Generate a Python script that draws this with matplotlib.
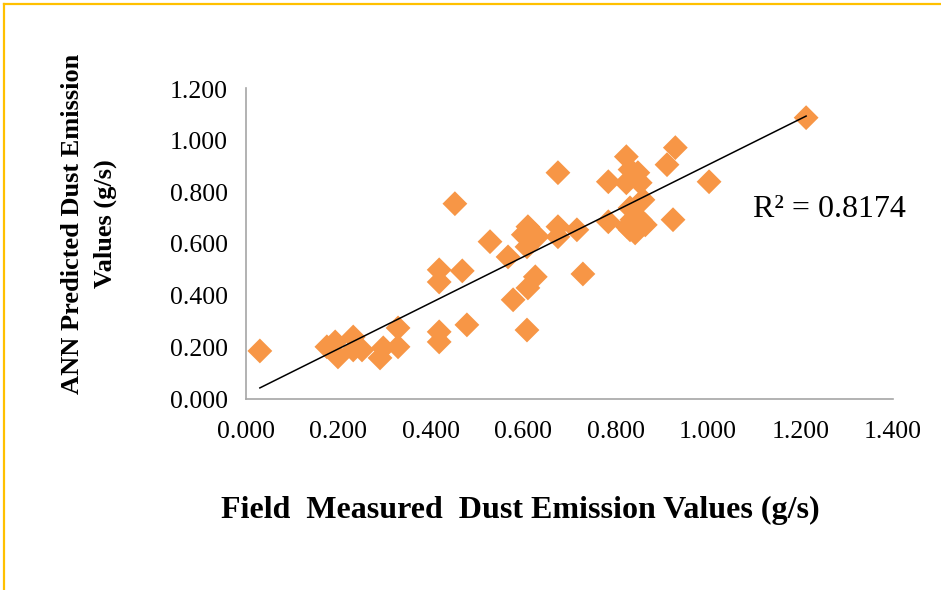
import numpy as np
import matplotlib.pyplot as plt
from matplotlib.lines import Line2D

# field measured vs ANN predicted dust emission (g/s)
measured = [0.030, 0.175, 0.193, 0.199, 0.232, 0.232, 0.251, 0.290, 0.297, 0.329,
            0.329, 0.418, 0.418, 0.418, 0.418, 0.452, 0.468, 0.478, 0.528, 0.567,
            0.578, 0.608, 0.610, 0.626, 0.610, 0.608, 0.626, 0.608, 0.600, 0.630,
            0.675, 0.675, 0.675, 0.716, 0.729, 0.784, 0.784, 0.823, 0.831, 0.823,
            0.853, 0.848, 0.859, 0.831, 0.853, 0.825, 0.842, 0.835, 0.911, 0.929,
            0.924, 1.002, 1.212, 0.831, 0.864]
predicted = [0.186, 0.202, 0.221, 0.163, 0.240, 0.190, 0.190, 0.159, 0.198, 0.275,
             0.202, 0.260, 0.221, 0.500, 0.453, 0.756, 0.496, 0.287, 0.609, 0.550,
             0.384, 0.267, 0.430, 0.473, 0.667, 0.624, 0.636, 0.589, 0.636, 0.628,
             0.876, 0.667, 0.628, 0.655, 0.484, 0.841, 0.686, 0.938, 0.888, 0.837,
             0.837, 0.876, 0.771, 0.740, 0.694, 0.667, 0.643, 0.694, 0.907, 0.973,
             0.694, 0.841, 1.089, 0.655, 0.674]
r2_text = "R² = 0.8174"
x_ticks = [0.0, 0.2, 0.4, 0.6, 0.8, 1.0, 1.2, 1.4]
y_ticks = [0.0, 0.2, 0.4, 0.6, 0.8, 1.0, 1.2]

plt.rcParams['font.family'] = ['Liberation Serif', 'DejaVu Serif']

fig = plt.figure(figsize=(9.41, 5.90), dpi=100)
ax = fig.add_axes([246 / 941, 1 - 399 / 590, (893 - 246) / 941, (399 - 88) / 590])

ax.scatter(measured, predicted, marker='D', s=160, color='#F79646',
           edgecolors='none', zorder=3)

# linear trendline
xs = np.array(measured)
k, b = np.polyfit(xs, predicted, 1)
xl = np.array([xs.min(), xs.max()])
ax.plot(xl, k * xl + b, color='black', lw=1.1, zorder=4)

ax.set_xlim(0, 1.4)
ax.set_ylim(0, 1.2 * 311 / 310)
ax.set_xticks(x_ticks)
ax.set_yticks(y_ticks)
ax.set_xticklabels(['%.3f' % v for v in x_ticks], fontsize=18.5)
ax.set_yticklabels(['%.3f' % v for v in y_ticks], fontsize=18.5)
ax.tick_params(length=0)
ax.tick_params(axis='y', pad=13)
ax.tick_params(axis='x', pad=16)
for s in ['top', 'right']:
    ax.spines[s].set_visible(False)
for s in ['left', 'bottom']:
    ax.spines[s].set_color('#A6A6A6')
    ax.spines[s].set_linewidth(1.2)

ax.text(753 / 941, 1 - 210 / 590, r2_text, transform=fig.transFigure,
        fontsize=23, va='center', ha='left')

fig.text(520 / 941, 1 - 510 / 590, 'Field  Measured  Dust Emission Values (g/s)',
         fontsize=23, fontweight='bold', ha='center', va='center')
fig.text(89 / 941, 1 - 224 / 590, 'ANN Predicted Dust Emission\nValues (g/s)',
         fontsize=19, fontweight='bold', ha='center', va='center', rotation=90,
         linespacing=1.5)

# yellow frame (only top and left edges visible)
fig.add_artist(Line2D([4 / 941, 1], [1 - 4 / 590, 1 - 4 / 590],
                      transform=fig.transFigure, color='#FFC000', lw=1.6))
fig.add_artist(Line2D([4 / 941, 4 / 941], [0, 1 - 4 / 590],
                      transform=fig.transFigure, color='#FFC000', lw=1.6))

fig.savefig('out.png', dpi=100)
